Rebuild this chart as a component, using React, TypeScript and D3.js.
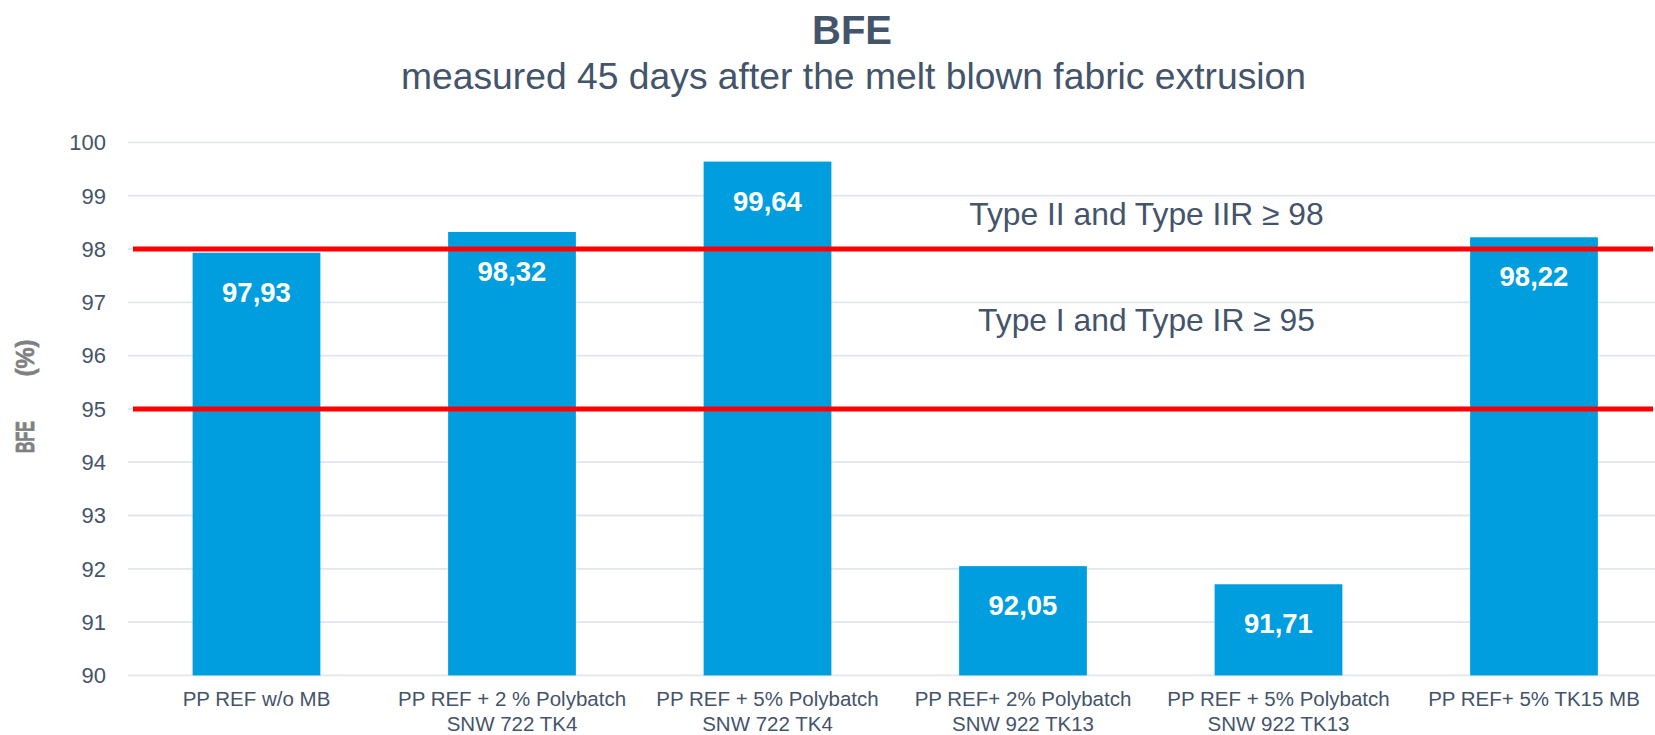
import React from "react";
import * as d3 from "d3";

const categories: string[][] = [
  ["PP REF w/o MB"],
  ["PP REF + 2 % Polybatch", "SNW 722 TK4"],
  ["PP REF + 5% Polybatch", "SNW 722 TK4"],
  ["PP REF+ 2% Polybatch", "SNW 922 TK13"],
  ["PP REF + 5% Polybatch", "SNW 922 TK13"],
  ["PP REF+ 5% TK15 MB"],
];
const values: number[] = [97.93, 98.32, 99.64, 92.05, 91.71, 98.22];
const valueLabels: string[] = ["97,93", "98,32", "99,64", "92,05", "91,71", "98,22"];
const yTicks: number[] = [90, 91, 92, 93, 94, 95, 96, 97, 98, 99, 100];
const thresholds: number[] = [98, 95];
const thresholdLabels: string[] = ["Type II and Type IIR ≥ 98", "Type I and Type IR ≥ 95"];

const W = 1655;
const H = 735;
const FONT = "'Liberation Sans', Arial, Helvetica, sans-serif";
const TEXT = "#44546A";
const BLUE = "#009EDF";

export default function App() {
  const x = d3
    .scaleBand<number>()
    .domain(d3.range(categories.length))
    .range([128.75, 1661.75])
    .paddingInner(0.5)
    .paddingOuter(0.25);
  const y = d3.scaleLinear().domain([90, 100]).range([675.4, 142.4]);

  return (
    <svg
      width={W}
      height={H}
      style={{ position: "absolute", left: 0, top: 0, background: "#fff" }}
      fontFamily={FONT}
    >
      {/* Title */}
      <text x={852} y={43.5} textAnchor="middle" fontSize={40} fontWeight="bold" fill={TEXT}>
        BFE
      </text>
      <text
        x={853.5}
        y={89}
        textAnchor="middle"
        fontSize={37}
        fill={TEXT}
        textLength={905}
        lengthAdjust="spacingAndGlyphs"
      >
        measured 45 days after the melt blown fabric extrusion
      </text>

      {/* Gridlines */}
      {yTicks.map((t) => (
        <line
          key={"g" + t}
          x1={128}
          x2={W}
          y1={y(t)}
          y2={y(t)}
          stroke="#E2E6EA"
          strokeWidth={1.8}
        />
      ))}
      {/* Y tick labels */}
      {yTicks.map((t) => (
        <text
          key={"t" + t}
          x={106}
          y={y(t) + 7.8}
          textAnchor="end"
          fontSize={22}
          fill={TEXT}
        >
          {t}
        </text>
      ))}

      {/* Y axis label */}
      <g transform="translate(34,437) rotate(-90)">
        <text x={0} y={0} textAnchor="middle" fontSize={26} fontWeight="bold" fill="#808080" stroke="#808080" strokeWidth={0.8} textLength={32} lengthAdjust="spacingAndGlyphs">
          BFE
        </text>
      </g>
      <g transform="translate(34,358) rotate(-90)">
        <text x={0} y={0} textAnchor="middle" fontSize={26} fontWeight="bold" fill="#808080" stroke="#808080" strokeWidth={0.6} textLength={37} lengthAdjust="spacingAndGlyphs">
          (%)
        </text>
      </g>

      {/* Bars */}
      {values.map((v, i) => (
        <rect
          key={"b" + i}
          x={x(i)!}
          y={y(v)}
          width={x.bandwidth()}
          height={y(90) - y(v)}
          fill={BLUE}
        />
      ))}

      {/* Threshold lines */}
      {thresholds.map((t) => (
        <line
          key={"r" + t}
          x1={133}
          x2={1653}
          y1={y(t)}
          y2={y(t)}
          stroke="#FF0000"
          strokeWidth={5}
        />
      ))}

      {/* Value labels */}
      {values.map((v, i) => (
        <text
          key={"v" + i}
          x={x(i)! + x.bandwidth() / 2}
          y={y(v) + 49}
          textAnchor="middle"
          fontSize={27.5}
          fontWeight="bold"
          fill="#fff"
        >
          {valueLabels[i]}
        </text>
      ))}

      {/* Threshold annotations */}
      {thresholdLabels.map((s, i) => (
        <text
          key={"a" + i}
          x={1146.5}
          y={i === 0 ? y(thresholds[0]) - 24.5 : y(thresholds[0]) + 82}
          textAnchor="middle"
          fontSize={31.8}
          fill={TEXT}
        >
          {s}
        </text>
      ))}

      {/* Category labels */}
      {categories.map((lines, i) => (
        <text
          key={"c" + i}
          x={x(i)! + x.bandwidth() / 2}
          textAnchor="middle"
          fontSize={20.5}
          fill={TEXT}
        >
          {lines.map((l, j) => (
            <tspan key={j} x={x(i)! + x.bandwidth() / 2} y={706 + j * 25}>
              {l}
            </tspan>
          ))}
        </text>
      ))}
    </svg>
  );
}
